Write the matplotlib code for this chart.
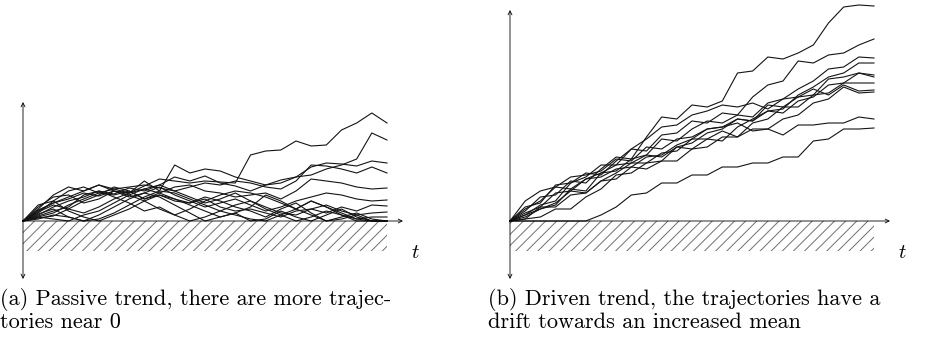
import matplotlib
matplotlib.use("Agg")
import matplotlib.pyplot as plt
from matplotlib.patches import Rectangle

W, H = 934, 350
plt.rcParams['mathtext.fontset'] = 'cm'
plt.rcParams['hatch.linewidth'] = 0.7

# time steps shared by every trajectory
steps = list(range(25))

# (a) passive trend: heights above the boundary
passive = [
    [0, 10, 18, 22, 28, 25, 30, 28, 35, 42, 40, 38, 40, 39, 38, 66, 70, 71, 80, 75, 76, 91, 98, 108, 98],
    [0, 6, 14, 20, 24, 30, 27, 33, 30, 36, 44, 40, 45, 38, 35, 30, 36, 41, 44, 46, 52, 56, 62, 88, 81],
    [0, 12, 26, 34, 30, 36, 32, 28, 40, 30, 56, 48, 52, 50, 44, 40, 36, 38, 44, 54, 58, 57, 55, 60, 58],
    [0, 4, 8, 16, 22, 28, 32, 34, 36, 33, 30, 34, 38, 36, 40, 38, 34, 32, 40, 56, 55, 52, 48, 54, 48],
    [0, 8, 20, 30, 34, 28, 26, 30, 22, 28, 34, 36, 30, 28, 24, 26, 28, 22, 30, 42, 40, 38, 34, 32, 33],
    [0, 14, 24, 26, 18, 22, 30, 24, 28, 34, 26, 20, 14, 18, 22, 16, 10, 14, 20, 24, 28, 26, 22, 20, 21],
    [0, 3, 5, 12, 20, 26, 34, 30, 22, 26, 20, 18, 22, 14, 10, 12, 8, 4, 10, 12, 8, 14, 10, 16, 15],
    [0, 9, 16, 12, 8, 14, 22, 28, 32, 36, 30, 24, 18, 22, 28, 20, 14, 8, 6, 12, 16, 10, 6, 8, 9],
    [0, 5, 10, 14, 26, 30, 24, 18, 10, 14, 6, 0, 4, 10, 16, 20, 12, 6, 0, 4, 10, 6, 2, 4, 4],
    [0, 16, 20, 10, 4, 0, 6, 12, 20, 26, 22, 16, 10, 4, 8, 14, 26, 20, 12, 6, 0, 2, 6, 0, 0],
    [0, 2, 6, 4, 0, 2, 8, 16, 24, 30, 28, 22, 16, 10, 6, 2, 0, 6, 12, 20, 14, 8, 2, 0, 0],
    [0, 7, 12, 4, 0, 6, 14, 22, 28, 24, 16, 8, 0, 4, 8, 0, 2, 10, 4, 0, 6, 12, 4, 0, 0],
    [0, 11, 18, 24, 30, 36, 30, 26, 32, 28, 22, 18, 24, 20, 14, 10, 4, 12, 18, 8, 0, 4, 8, 2, 0],
    [0, 4, 2, 0, 6, 10, 18, 26, 20, 12, 6, 12, 20, 26, 30, 28, 24, 18, 12, 20, 14, 6, 0, 0, 0],
]

# (b) driven trend
driven = [
    [0, 10, 24, 26, 40, 38, 52, 64, 62, 84, 104, 102, 116, 114, 120, 148, 150, 164, 162, 168, 176, 198, 214, 216, 215],
    [0, 14, 18, 36, 38, 48, 46, 60, 72, 70, 86, 88, 100, 98, 108, 106, 124, 136, 140, 160, 158, 166, 168, 176, 182],
    [0, 4, 12, 16, 32, 30, 48, 50, 62, 66, 82, 80, 92, 100, 98, 106, 104, 118, 122, 132, 140, 152, 154, 164, 163],
    [0, 8, 14, 28, 30, 42, 48, 56, 58, 66, 64, 74, 72, 82, 80, 94, 102, 110, 112, 126, 134, 144, 148, 158, 158],
    [0, 20, 30, 34, 44, 46, 50, 62, 60, 74, 72, 82, 84, 92, 94, 102, 100, 116, 114, 124, 126, 142, 144, 148, 146],
    [0, 2, 4, 12, 12, 24, 32, 46, 48, 58, 60, 74, 78, 88, 92, 102, 100, 110, 108, 120, 124, 136, 138, 148, 144],
    [0, 6, 16, 20, 38, 44, 56, 56, 72, 82, 94, 96, 106, 110, 116, 114, 118, 112, 122, 124, 132, 126, 136, 130, 131],
    [0, 2, 14, 14, 26, 28, 40, 48, 58, 58, 68, 70, 82, 82, 90, 84, 92, 92, 102, 106, 118, 122, 134, 128, 129],
    [0, 12, 20, 34, 32, 42, 44, 52, 54, 64, 66, 76, 82, 92, 94, 98, 90, 92, 86, 96, 96, 98, 98, 104, 102],
    [0, 0, 0, 0, 0, 0, 6, 14, 26, 28, 38, 38, 46, 46, 54, 54, 58, 58, 64, 64, 80, 82, 92, 92, 93],
    [0, 6, 12, 18, 30, 28, 40, 42, 54, 52, 60, 60, 72, 74, 84, 84, 98, 102, 114, 114, 126, 128, 138, 138, 138],
]

captions = [
    ["(a) Passive trend, there are more trajec-", "tories near 0"],
    ["(b) Driven trend, the trajectories have a", "drift towards an increased mean"],
]

fig = plt.figure(figsize=(W / 100, H / 100), dpi=100)

sx = 364 / 24  # px per step


def panel(x0, top, paths, ytop):
    left, right, bottom = x0 - 15, x0 + 402, 285
    ax = fig.add_axes([left / W, (H - bottom) / H, (right - left) / W, (bottom - top) / H])
    ax.set_xlim((left - x0) / sx, (right - x0) / sx)
    ax.set_ylim(221 - bottom, 221 - top)
    ax.axis('off')
    ax.add_patch(Rectangle((0, -30), 24, 30, facecolor='none', edgecolor='#707070',
                           hatch='///', lw=0))
    for p in paths:
        ax.plot(steps, p, color='#141414', lw=0.8)
    arr = dict(lw=0.6, color='black', shrinkA=0, shrinkB=0, mutation_scale=7)
    ax.annotate('', xy=(0, ytop), xytext=(0, -58), arrowprops=dict(arrowstyle='<->', **arr))
    ax.annotate('', xy=(380 / sx, 0), xytext=(0, 0), arrowprops=dict(arrowstyle='->', **arr))
    ax.text(392 / sx, -31, r'$t$', fontsize=15, ha='center', va='center')
    return ax


panel(23, 95, passive, 119)
panel(510, 2, driven, 211)

for xpx, lines in zip([0, 488], captions):
    for base, line in zip([305, 328], lines):
        fig.text(xpx / W, 1 - base / H, line, family='cmr10', fontsize=16,
                 va='baseline')

fig.savefig('out.png', dpi=100)
